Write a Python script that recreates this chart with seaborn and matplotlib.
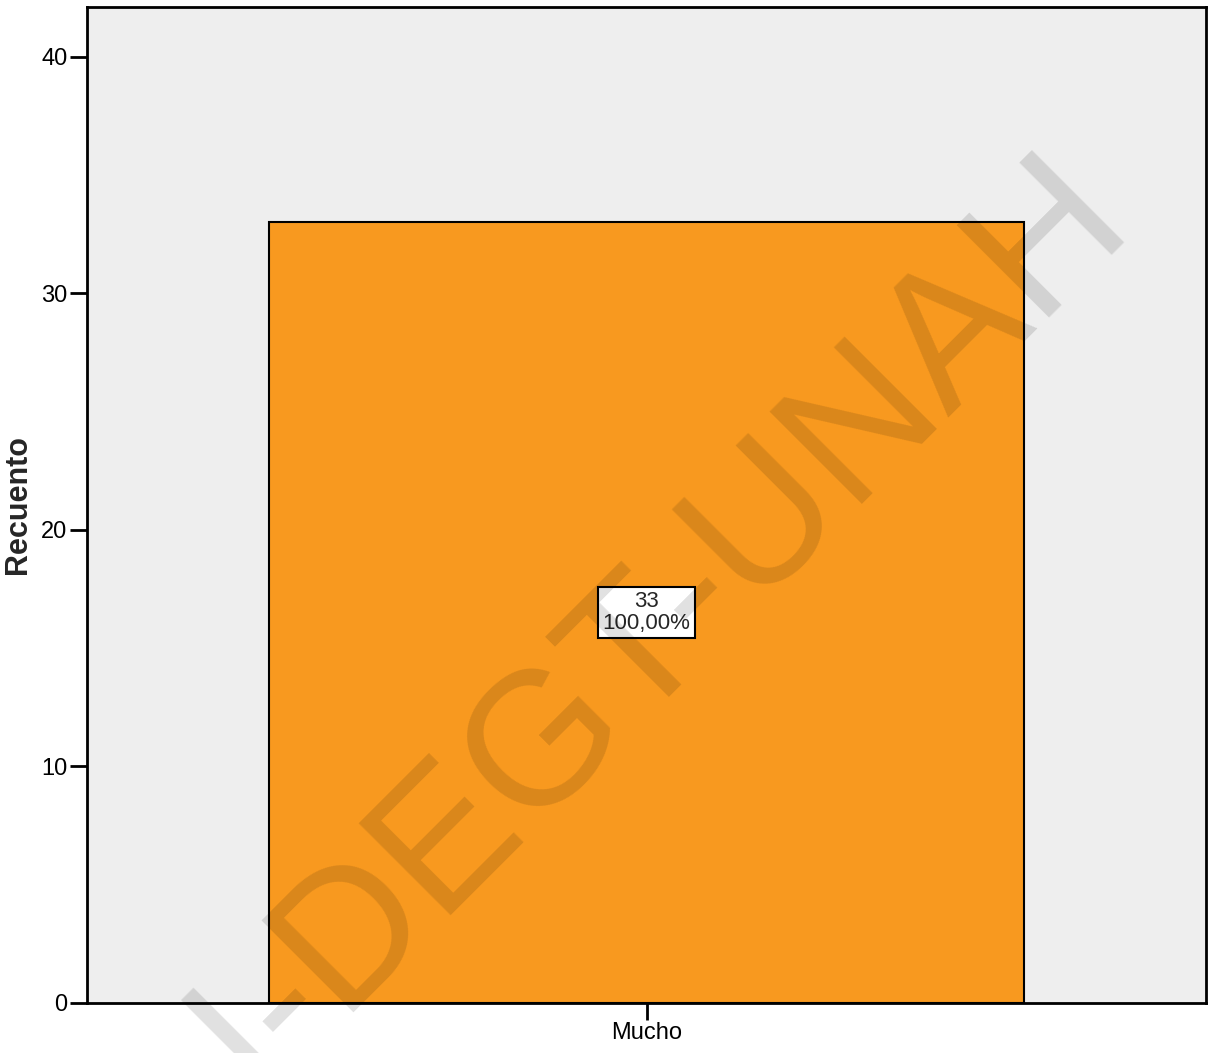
import numpy as np
import pandas as pd
import matplotlib
matplotlib.use("Agg")
import matplotlib.pyplot as plt
import seaborn as sns

# data
categories = ["Mucho"]
counts = [33]
percents = [100.0]

df = pd.DataFrame({"categoria": categories, "recuento": counts})

sns.set_style("white")
plt.rcParams["font.family"] = ["Liberation Sans", "DejaVu Sans"]

fig = plt.figure(figsize=(12.09, 10.53), dpi=100)
ax = fig.add_axes([0.072, 0.0475, 0.9255, 0.946])
ax.set_facecolor("#EEEEEE")

sns.barplot(data=df, x="categoria", y="recuento", color="#F8991F",
            saturation=1, width=0.675, edgecolor="black", linewidth=1.5, ax=ax)

ax.set_xlim(-0.5, 0.5)
ax.set_ylim(0, 42.1)
ax.set_yticks([0, 10, 20, 30, 40])
ax.set_xlabel("")
ax.set_ylabel("Recuento", fontsize=22, fontweight="bold", labelpad=6)
ax.tick_params(axis="both", direction="out", length=12, width=2,
               labelsize=17, left=True, bottom=True, colors="black", pad=2)
for s in ax.spines.values():
    s.set_color("black")
    s.set_linewidth(2)

# etiqueta en la barra
for i, (c, p) in enumerate(zip(counts, percents)):
    lab = f"{c}\n{p:.2f}%".replace(".", ",")
    ax.text(i, c / 2, lab, ha="center", va="center", fontsize=16,
            linespacing=1.05,
            bbox=dict(boxstyle="square,pad=0.2", fc="white", ec="black", lw=1.5))

# marca de agua
fig.text(0.545, 0.411, "I-DEGT-UNAH", rotation=45, ha="center", va="center",
         fontsize=137, color="black", alpha=0.12, family="Liberation Sans",
         rotation_mode="anchor")

fig.savefig("out.png", dpi=100)
